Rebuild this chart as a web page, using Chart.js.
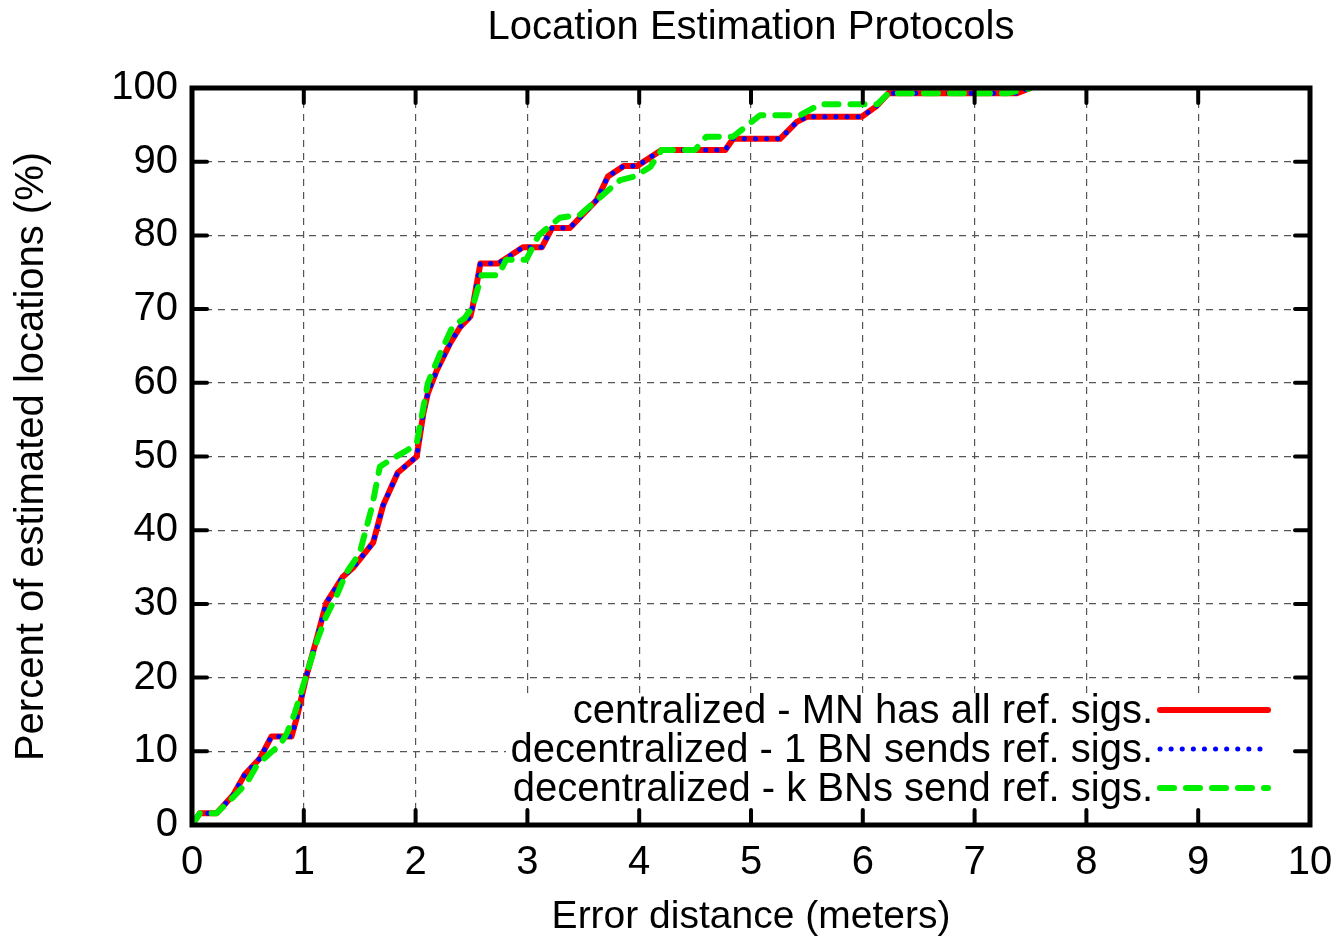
<!DOCTYPE html>
<html>
<head>
<meta charset="utf-8">
<title>Location Estimation Protocols</title>
<script src="https://cdn.jsdelivr.net/npm/chart.js@4.4.1/dist/chart.umd.min.js"></script>
<style>
    html, body { margin: 0; padding: 0; background: #fff; }
    #wrap { width: 1342px; height: 941px; }
</style>
</head>
<body>
<div id="wrap"><canvas id="cdfChart" width="1342" height="941"></canvas></div>
<script>
// Tick positions
const xTicks = [0, 1, 2, 3, 4, 5, 6, 7, 8, 9, 10];
const yTicks = [0, 10, 20, 30, 40, 50, 60, 70, 80, 90, 100];

const seriesLabels = [
    'centralized - MN has all ref. sigs.',
    'decentralized - 1 BN sends ref. sigs.',
    'decentralized - k BNs send ref. sigs.'
];

// centralized (red) - error distance (m) and cumulative percent
const centralizedErr = [0, 0.07, 0.22, 0.37, 0.47, 0.61, 0.71, 0.89, 0.94, 1.03, 1.12, 1.2, 1.35, 1.44, 1.62, 1.71,
    1.84, 2.01, 2.07, 2.11, 2.19, 2.31, 2.4, 2.49, 2.51, 2.58, 2.74, 2.96, 3.13, 3.22, 3.38, 3.62, 3.72, 3.86,
    3.98, 4.2, 4.77, 4.84, 5.26, 5.41, 5.5, 5.99, 6.12, 6.23, 7.38, 7.5];
const centralizedPct = [0, 1.6, 1.6, 4.1, 6.8, 9.1, 12, 12, 14.7, 20.6, 25.5, 30.1, 33.7, 34.9, 38.3, 43.4,
    47.8, 50, 55.9, 58.6, 61.7, 65.4, 67.6, 69, 70.3, 76.2, 76.2, 78.4, 78.4, 81, 81, 84.8, 88, 89.4,
    89.4, 91.6, 91.6, 93.1, 93.1, 95.4, 96.1, 96.1, 97.5, 99.3, 99.3, 100];

// 1 BN (blue dotted) - lies exactly on the centralized curve
const oneBnErr = centralizedErr.slice();
const oneBnPct = centralizedPct.slice();

// k BNs (green dashed)
const kBnErr = [0, 0.07, 0.22, 0.37, 0.49, 0.58, 0.71, 0.79, 0.85, 0.92, 1.01, 1.12, 1.2, 1.29, 1.38, 1.5, 1.61,
    1.68, 1.77, 1.93, 2.01, 2.07, 2.11, 2.22, 2.33, 2.44, 2.51, 2.56, 2.59, 2.74, 2.81, 2.99, 3.1, 3.29, 3.47,
    3.59, 3.83, 3.96, 4.1, 4.2, 4.5, 4.6, 4.84, 5.08, 5.44, 5.62, 6.13, 6.23, 7.3, 7.5];
const kBnPct = [0, 1.6, 1.6, 3.8, 5.7, 8.1, 9.9, 10.9, 12.5, 15.2, 19.7, 25.1, 28.3, 31, 34.2, 36.9, 43.2,
    48.6, 49.5, 50.9, 51.8, 56.7, 60, 64, 67.6, 68.8, 70.3, 73, 74.6, 74.6, 76.7, 76.7, 80, 82.4, 82.8,
    84.4, 87.5, 88, 89.3, 91.6, 91.6, 93.4, 93.4, 96.3, 96.3, 97.8, 97.8, 99.3, 99.3, 100];

const toPoints = (xs, ys) => xs.map((v, i) => ({ x: v, y: ys[i] }));

const FONT = '"Liberation Sans", Arial, Helvetica, sans-serif';
Chart.defaults.font.family = FONT;
Chart.defaults.color = '#000';

// white key box, frame, inward ticks and key entries
const gnuplotFrame = {
    id: 'gnuplotFrame',
    afterDatasetsDraw(chart) {
        const { ctx, chartArea: a, scales: { x, y } } = chart;
        const keyRight = 1153, keyTop = 693, rowGap = 39, firstRow = 710;

        ctx.save();
        // opaque key
        ctx.fillStyle = '#fff';
        ctx.fillRect(506, keyTop, a.right - 506, a.bottom - keyTop);

        // inward ticks
        ctx.strokeStyle = '#000';
        ctx.lineWidth = 4;
        ctx.lineCap = 'round';
        ctx.beginPath();
        xTicks.forEach(v => {
            const px = x.getPixelForValue(v);
            ctx.moveTo(px, a.bottom); ctx.lineTo(px, a.bottom - 15);
            ctx.moveTo(px, a.top); ctx.lineTo(px, a.top + 15);
        });
        yTicks.forEach(v => {
            const py = y.getPixelForValue(v);
            ctx.moveTo(a.left, py); ctx.lineTo(a.left + 15, py);
            ctx.moveTo(a.right, py); ctx.lineTo(a.right - 15, py);
        });
        ctx.stroke();

        // frame
        ctx.lineWidth = 5;
        ctx.lineCap = 'butt';
        ctx.strokeRect(a.left, a.top, a.right - a.left, a.bottom - a.top);

        // key entries
        ctx.font = '40px ' + FONT;
        ctx.textAlign = 'right';
        ctx.textBaseline = 'middle';
        chart.data.datasets.forEach((ds, i) => {
            const ry = firstRow + i * rowGap;
            ctx.fillStyle = '#000';
            ctx.fillText(ds.label, keyRight, ry + 2);
            ctx.strokeStyle = ds.borderColor;
            ctx.lineWidth = ds.borderWidth;
            ctx.lineCap = 'round';
            ctx.setLineDash(ds.borderDash || []);
            ctx.beginPath();
            ctx.moveTo(1160, ry);
            ctx.lineTo(1268, ry);
            ctx.stroke();
        });
        ctx.restore();
    }
};

const ctx = document.getElementById('cdfChart').getContext('2d');
new Chart(ctx, {
    type: 'line',
    data: {
        datasets: [
            {
                label: seriesLabels[0],
                data: toPoints(centralizedErr, centralizedPct),
                borderColor: '#ff0000',
                borderWidth: 6,
                order: 3
            },
            {
                label: seriesLabels[1],
                data: toPoints(oneBnErr, oneBnPct),
                borderColor: '#0000ff',
                borderWidth: 5,
                borderDash: [0.1, 11],
                borderCapStyle: 'round',
                order: 2
            },
            {
                label: seriesLabels[2],
                data: toPoints(kBnErr, kBnPct),
                borderColor: '#00ee00',
                borderWidth: 6,
                borderDash: [14, 12],
                borderCapStyle: 'round',
                order: 1
            }
        ]
    },
    options: {
        responsive: false,
        animation: false,
        devicePixelRatio: 1,
        elements: { point: { radius: 0 }, line: { tension: 0, borderJoinStyle: 'round' } },
        layout: { padding: { left: 0, right: 0, top: 0, bottom: 0 } },
        plugins: {
            legend: { display: false },
            tooltip: { enabled: false },
            title: {
                display: true,
                text: 'Location Estimation Protocols',
                fullSize: false,
                color: '#000',
                font: { size: 40, weight: 'normal' },
                padding: { top: 4, bottom: 36 }
            }
        },
        scales: {
            x: {
                type: 'linear',
                min: 0,
                max: 10,
                afterBuildTicks: s => { s.ticks = xTicks.map(v => ({ value: v })); },
                afterFit: s => { s.height = 116; s.paddingRight = 32; },
                grid: { color: '#555', lineWidth: 1.2, drawTicks: false },
                border: { display: false, dash: [7, 6] },
                ticks: { font: { size: 40 }, padding: 14, maxRotation: 0 },
                title: {
                    display: true,
                    text: 'Error distance (meters)',
                    font: { size: 39 },
                    padding: { top: 0, bottom: 0 }
                }
            },
            y: {
                type: 'linear',
                min: 0,
                max: 100,
                afterBuildTicks: s => { s.ticks = yTicks.map(v => ({ value: v })); },
                afterFit: s => { s.width = 192; },
                grid: { color: '#555', lineWidth: 1.2, drawTicks: false },
                border: { display: false, dash: [7, 6] },
                ticks: { font: { size: 40 }, padding: 14 },
                title: {
                    display: true,
                    text: 'Percent of estimated locations (%)',
                    font: { size: 40 },
                    padding: { top: 8, bottom: 0 }
                }
            }
        }
    },
    plugins: [gnuplotFrame]
});
</script>
</body>
</html>
